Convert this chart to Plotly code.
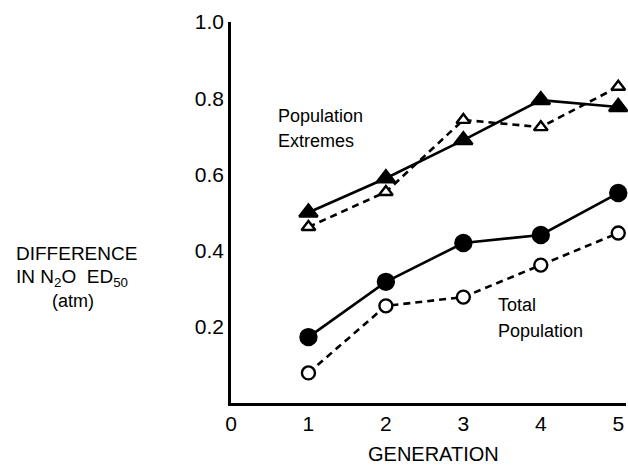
import plotly.graph_objects as go

generations = [1, 2, 3, 4, 5]
extremes_filled = [0.50, 0.59, 0.69, 0.795, 0.777]
extremes_open = [0.462, 0.554, 0.743, 0.724, 0.83]
total_filled = [0.173, 0.318, 0.42, 0.441, 0.551]
total_open = [0.079, 0.255, 0.278, 0.362, 0.446]

x_tickvals = [0, 1, 2, 3, 4, 5]
x_ticktext = ["0", "1", "2", "3", "4", "5"]
y_tickvals = [0.2, 0.4, 0.6, 0.8, 1.0]
y_ticktext = ["0.2", "0.4", "0.6", "0.8", "1.0"]

FONT = "Liberation Sans, Arial, sans-serif"
W, H = 628, 469
L, R, T, B = 231, 2, 22, 66

fig = go.Figure()

def add(y, dash, symbol, fill, size):
    fig.add_trace(go.Scatter(
        x=generations, y=y, mode="lines+markers",
        line=dict(color="black", width=2.6, dash=dash),
        marker=dict(symbol=symbol, size=size, color=fill,
                    line=dict(color="black", width=2.4)),
        showlegend=False, cliponaxis=False))

add(extremes_open, "7px,5px", "triangle-up", "white", 12)
add(extremes_filled, "solid", "triangle-up", "black", 16)
add(total_open, "7px,5px", "circle", "white", 13)
add(total_filled, "solid", "circle", "black", 16)

def px_ann(text, px, py, size, xanchor="left"):
    return dict(text=text,
                x=(px - L) / (W - L - R), y=1 - (py - T) / (H - T - B),
                xref="paper", yref="paper", showarrow=False,
                xanchor=xanchor, yanchor="middle", align="left",
                font=dict(size=size, family=FONT, color="black"))

fig.update_layout(
    width=W, height=H,
    margin=dict(l=L, r=R, t=T, b=B),
    paper_bgcolor="white", plot_bgcolor="white",
    font=dict(family=FONT, color="black", size=18),
    xaxis=dict(range=[0, 5.1], tickvals=x_tickvals, ticktext=x_ticktext,
               showgrid=False, zeroline=False, showline=True,
               linecolor="black", linewidth=2.5, ticks="",
               tickfont=dict(size=21), ticklabeloverflow="allow"),
    yaxis=dict(range=[0, 1.0], tickvals=y_tickvals, ticktext=y_ticktext,
               showgrid=False, zeroline=False, showline=True,
               linecolor="black", linewidth=2.5, ticks="",
               tickfont=dict(size=21)),
    annotations=[
        px_ann("Population", 276, 116, 18),
        px_ann("Extremes", 276, 141, 18),
        px_ann("Total", 496, 305, 18),
        px_ann("Population", 496, 331, 18),
        px_ann("DIFFERENCE", 14, 253, 19),
        px_ann("IN N<sub>2</sub>O  ED<sub>50</sub>", 14, 278, 19),
        px_ann("(atm)", 50, 301, 18),
        px_ann("GENERATION", 433, 454, 20, xanchor="center"),
    ],
)

# remove the browser's default 8px body margin so the figure fills the window
fig.write_html("out.html",
               config={"displayModeBar": False},
               post_script="document.body.style.margin='0';"
                           "document.body.style.overflow='hidden';")
